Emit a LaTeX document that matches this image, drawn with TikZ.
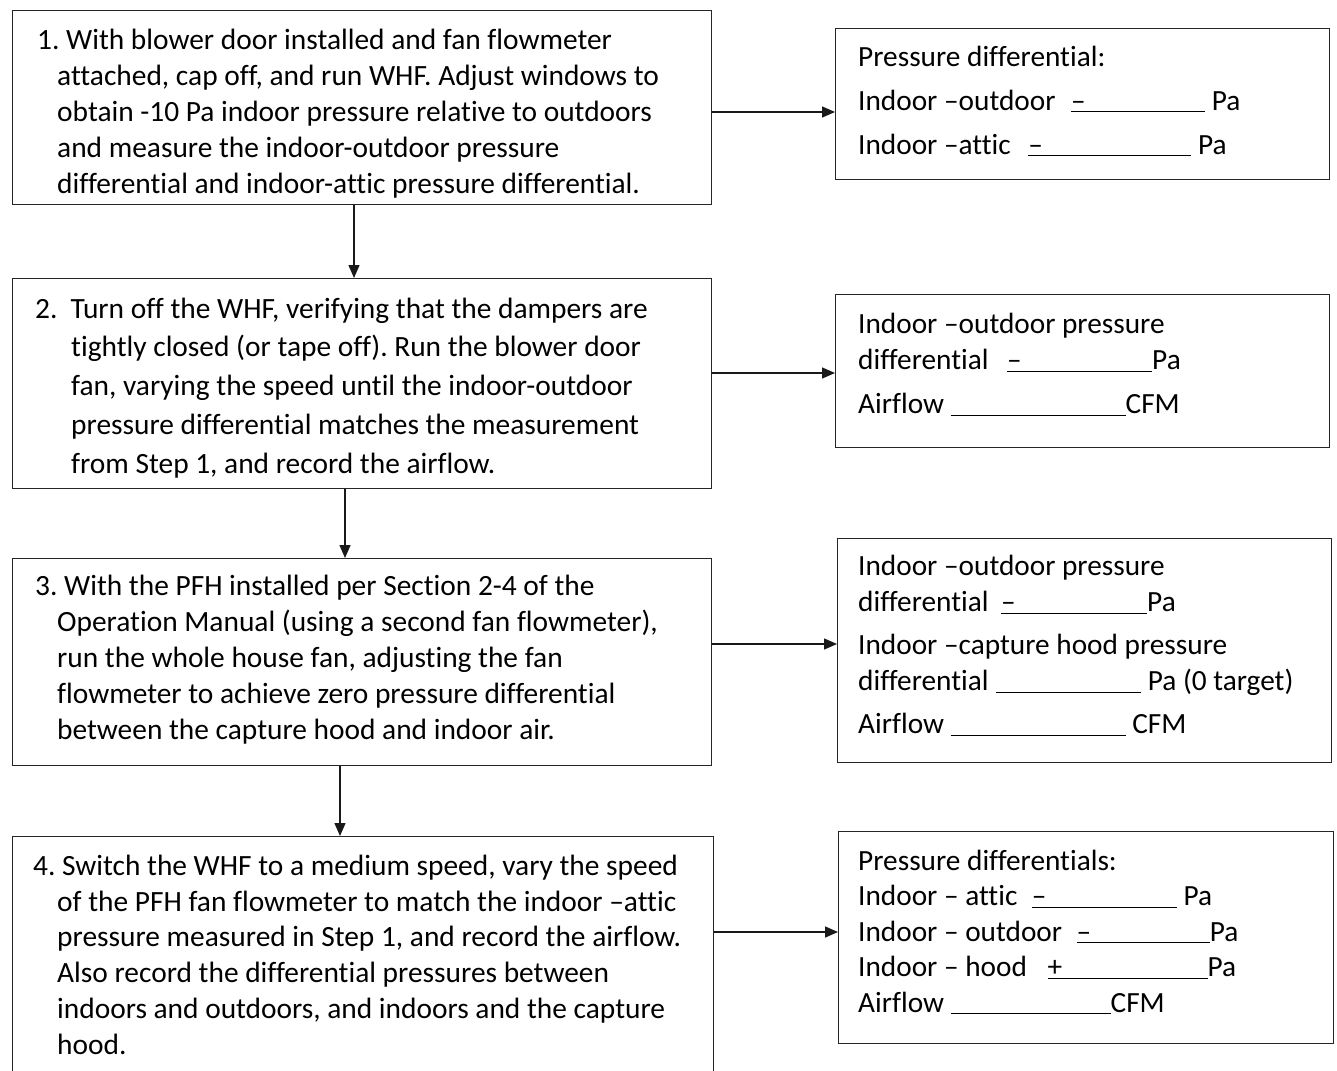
\documentclass[tikz,border=0pt]{standalone}
\usepackage{fontspec}
\setmainfont{Carlito}[Ligatures=NoCommon]
\usetikzlibrary{arrows.meta}
\newcommand\fillin[2]{\underline{\makebox[#2][l]{#1}}}
\frenchspacing
\begin{document}
\frenchspacing
\begin{tikzpicture}[x=1pt,y=-1pt,
  box/.style={draw=black!85, line width=1.4pt, inner sep=0pt, anchor=north west},
  arr/.style={-{Triangle[length=13pt,width=11pt]}, line width=1.4pt, draw=black!90},
  txt/.style={anchor=north west, inner sep=0pt, align=left, font=\fontsize{29.4}{36}\selectfont},
  rtxt/.style={anchor=north west, inner sep=0pt, align=left, font=\fontsize{29.3}{36}\selectfont}]
\useasboundingbox (0,0) rectangle (1337,1070);
\clip (0,0) rectangle (1337,1070);
\fill[white] (0,0) rectangle (1337,1070);
% left boxes
\node[box, minimum width=699pt, minimum height=194pt] (b1) at (12,10) {};
\node[box, minimum width=699pt, minimum height=210pt] (b2) at (12,278) {};
\node[box, minimum width=699pt, minimum height=207pt] (b3) at (12,558) {};
\node[box, minimum width=701pt, minimum height=260pt] (b4) at (12,836) {};
% right boxes
\node[box, minimum width=494pt, minimum height=151pt] (r1) at (835,28) {};
\node[box, minimum width=494pt, minimum height=153pt] (r2) at (835,294) {};
\node[box, minimum width=494pt, minimum height=224pt] (r3) at (837,538) {};
\node[box, minimum width=495pt, minimum height=212pt] (r4) at (838,831) {};
% texts left
\node[txt] (t1) at (37,24) {\strut 1. With blower door installed and fan flowmeter\\
\hspace*{20pt}attached, cap off, and run WHF. Adjust windows to\\
\hspace*{20pt}obtain -10 Pa indoor pressure relative to outdoors\\
\hspace*{20pt}and measure the indoor-outdoor pressure\\
\hspace*{20pt}differential and indoor-attic pressure differential.};
\node[txt, font=\fontsize{29.4}{38.7}\selectfont] (t2) at (35,291) {\strut 2.\hspace*{13pt}Turn off the WHF, verifying that the dampers are\\
\hspace*{36pt}tightly closed (or tape off). Run the blower door\\
\hspace*{36pt}fan, varying the speed until the indoor-outdoor\\
\hspace*{36pt}pressure differential matches the measurement\\
\hspace*{36pt}from Step 1, and record the airflow.};
\node[txt] (t3) at (35,570) {\strut 3. With the PFH installed per Section 2-4 of the\\
\hspace*{22pt}Operation Manual (using a second fan flowmeter),\\
\hspace*{22pt}run the whole house fan, adjusting the fan\\
\hspace*{22pt}flowmeter to achieve zero pressure differential\\
\hspace*{22pt}between the capture hood and indoor air.};
\node[txt, font=\fontsize{29.4}{35.8}\selectfont] (t4) at (33,850) {\strut 4. Switch the WHF to a medium speed, vary the speed\\
\hspace*{24pt}of the PFH fan flowmeter to match the indoor --attic\\
\hspace*{24pt}pressure measured in Step 1, and record the airflow.\\
\hspace*{24pt}Also record the differential pressures between\\
\hspace*{24pt}indoors and outdoors, and indoors and the capture\\
\hspace*{24pt}hood.};
% texts right
\node[rtxt, font=\fontsize{29.3}{44}\selectfont] (s1) at (858,35) {\strut Pressure differential:\\
Indoor --outdoor \hspace*{9pt}\fillin{--}{134pt} Pa\\
Indoor --attic \hspace*{11pt}\fillin{--}{163pt} Pa};
\node[rtxt] (s2) at (858,308) {\strut Indoor --outdoor pressure\\
differential \hspace*{12pt}\fillin{--}{145pt}Pa\\[8pt]
Airflow \fillin{}{175pt}CFM};
\node[rtxt] (s3) at (858,550) {\strut Indoor --outdoor pressure\\
differential \hspace*{6pt}\fillin{--}{146pt}Pa\\[7pt]
Indoor --capture hood pressure\\
differential \hspace*{1pt}\fillin{}{145pt} Pa (0 target)\\[7pt]
Airflow \fillin{}{175pt} CFM};
\node[rtxt, font=\fontsize{29.3}{35.5}\selectfont] (s4) at (858,845) {\strut Pressure differentials:\\
Indoor -- attic \hspace*{8pt}\fillin{--}{145pt} Pa\\
Indoor -- outdoor \hspace*{8pt}\fillin{--}{133pt}Pa\\
Indoor -- hood \hspace*{14pt}\fillin{+}{160pt}Pa\\
Airflow \fillin{}{160pt}CFM};
% arrows
\draw[arr] (b1.south -| 354,0) -- (b2.north -| 354,0);
\draw[arr] (b2.south -| 345,0) -- (b3.north -| 345,0);
\draw[arr] (b3.south -| 340,0) -- (b4.north -| 340,0);
\draw[arr] (b1.east |- 0,112) -- (r1.west |- 0,112);
\draw[arr] (b2.east |- 0,373) -- (r2.west |- 0,373);
\draw[arr] (b3.east |- 0,644) -- (r3.west |- 0,644);
\draw[arr] (b4.east |- 0,932) -- (r4.west |- 0,932);
\end{tikzpicture}
\end{document}
